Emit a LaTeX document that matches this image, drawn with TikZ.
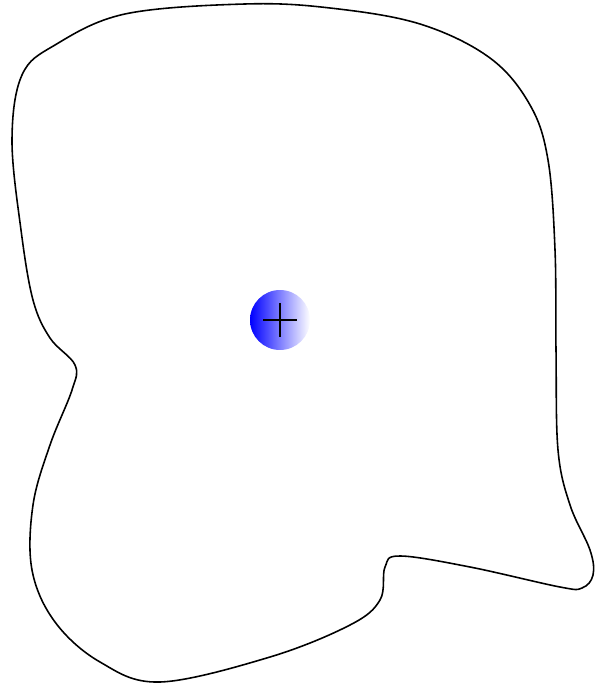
\documentclass[tikz,border=0pt]{standalone}
\usepackage{xcolor}
\usepackage{tikz}
\usetikzlibrary{calc}

\begin{document}
\begin{tikzpicture}[
  x=0.02cm, y=-0.02cm,
  surface/.style={draw=black, line width=0.9pt},
  charge/.style={circle, minimum size=1.2cm, inner sep=0pt, left color=blue, right color=white},
  sign/.style={draw=black, line width=0.8pt}
]
\useasboundingbox (0,0) rectangle (595,685);

% closed surface
\draw[surface] plot[smooth cycle, tension=0.6] coordinates {
  (125,14) (245,4) (330,8) (420,24) (490,58) (530,105) (548,160)
  (555,250) (556,350) (558,450) (570,505) (590,550) (593,575) (582,588)
  (560,587) (470,567) (400,556) (385,567) (380,600)
  (350,625) (270,657) (160,682) (100,662) (55,622)
  (32,570) (33,505) (50,445) (72,390) (75,365) (50,338)
  (33,300) (21,230) (12,140) (22,75) (55,45)};

% point charge
\node[charge] (q) at (280,320) {};
\draw[sign] ($(q.center)+(-17,0)$) -- ($(q.center)+(17,0)$);
\draw[sign] ($(q.center)+(0,-17)$) -- ($(q.center)+(0,17)$);

\end{tikzpicture}
\end{document}
